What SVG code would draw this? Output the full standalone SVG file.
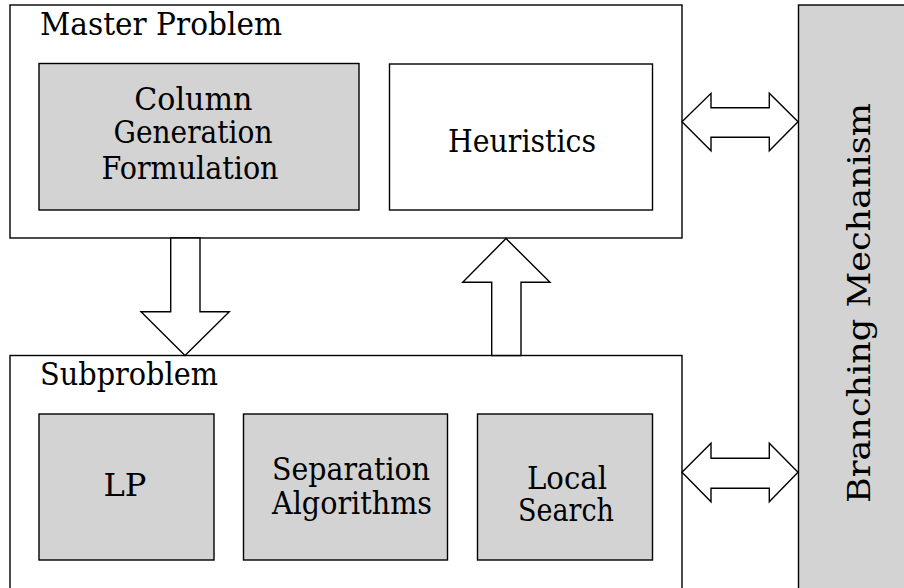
<svg xmlns="http://www.w3.org/2000/svg" width="904" height="588" viewBox="0 0 904 588" font-family="'DejaVu Serif', serif">
<style>
.box{fill:#ffffff;stroke:#000;stroke-width:1.4}
.gbox{fill:#d3d3d3;stroke:#000;stroke-width:1.4}
.arr{fill:#ffffff;stroke:#000;stroke-width:1.4;stroke-linejoin:miter}
text{font-family:'DejaVu Serif',serif;fill:#000;font-size:31px}
.c{text-anchor:middle}
</style>
<rect width="904" height="588" fill="#ffffff"/>
<g id="branching">
<rect class="gbox" x="798.5" y="5" width="120" height="600"/>
<text class="c" transform="translate(870,303) rotate(-90)" font-size="42" textLength="400" lengthAdjust="spacingAndGlyphs">Branching Mechanism</text>
</g>
<g id="master">
<rect class="box" x="10" y="5" width="672" height="233"/>
<text x="40" y="35" font-size="32" textLength="242" lengthAdjust="spacingAndGlyphs">Master Problem</text>
</g>
<g id="cgf">
<rect class="gbox" x="39" y="63.5" width="320" height="146.5"/>
<text class="c" x="193.3" y="110" textLength="118" lengthAdjust="spacingAndGlyphs">Column</text>
<text class="c" x="193" y="142.5" textLength="159" lengthAdjust="spacingAndGlyphs">Generation</text>
<text class="c" x="190" y="179" textLength="177" lengthAdjust="spacingAndGlyphs">Formulation</text>
</g>
<g id="heuristics">
<rect class="box" x="389.5" y="64" width="263" height="146"/>
<text class="c" x="522" y="151.5" textLength="148" lengthAdjust="spacingAndGlyphs">Heuristics</text>
</g>
<g id="subproblem">
<rect class="box" x="10" y="355.5" width="672" height="260"/>
<text x="40" y="385" font-size="32" textLength="178" lengthAdjust="spacingAndGlyphs">Subproblem</text>
</g>
<g id="lp">
<rect class="gbox" x="39" y="414" width="175" height="146"/>
<text class="c" x="125" y="496" textLength="43" lengthAdjust="spacingAndGlyphs">LP</text>
</g>
<g id="separation">
<rect class="gbox" x="243.5" y="414" width="204" height="146"/>
<text class="c" x="351" y="479.5" textLength="158" lengthAdjust="spacingAndGlyphs">Separation</text>
<text class="c" x="352" y="514" textLength="160" lengthAdjust="spacingAndGlyphs">Algorithms</text>
</g>
<g id="localsearch">
<rect class="gbox" x="477.5" y="414" width="175" height="146"/>
<text class="c" x="567" y="488.5" font-size="27" textLength="80" lengthAdjust="spacingAndGlyphs">Local</text>
<text class="c" x="566" y="521" font-size="27" textLength="96" lengthAdjust="spacingAndGlyphs">Search</text>
</g>
<g id="connectors">
<polygon class="arr" points="170.7,238 200,238 200,311.7 229.3,311.7 185,355.5 141,311.7 170.7,311.7"/>
<polygon class="arr" points="491.7,355.5 521,355.5 521,282.3 550,282.3 506,238.5 462.7,282.3 491.7,282.3"/>
<polygon class="arr" points="682,121.7 711,93.3 711,107.7 769.3,107.7 769.3,93.3 798,121.7 769.3,150.7 769.3,137.3 711,137.3 711,150.7"/>
<polygon class="arr" points="682,472.3 711,443.3 711,458.3 769.3,458.3 769.3,443.3 798,472.3 769.3,501.7 769.3,488.3 711,488.3 711,501.7"/>
</g>
</svg>
